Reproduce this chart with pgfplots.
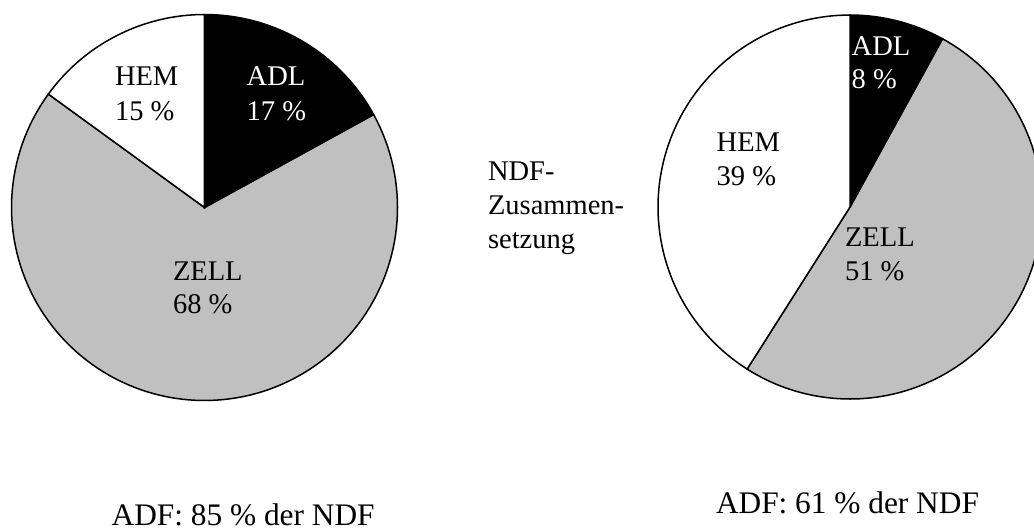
\documentclass[border=0pt]{standalone}
\usepackage{pgfplots}
\pgfplotsset{compat=1.18}
\usepackage{fontspec}
\setmainfont{Liberation Serif}
\definecolor{zellgray}{HTML}{C0C0C0}
\tikzset{
  pielbl/.style={inner sep=0pt, outer sep=0pt, anchor=base west, font=\fontsize{10}{12}\selectfont},
  captxt/.style={inner sep=0pt, outer sep=0pt, anchor=base west, font=\fontsize{11}{13}\selectfont},
}
% shares in percent (clockwise from 12 o'clock: ADL, ZELL, HEM)
% left:  ADL 17, ZELL 68, HEM 15
% right: ADL 8,  ZELL 51, HEM 39 (rest of the circle)
\begin{document}
\begin{tikzpicture}
\useasboundingbox (0,0) rectangle (362.81pt,185.96pt);
\begin{axis}[
  at={(0,0)}, anchor=south west,
  scale only axis, width=362.81pt, height=185.96pt,
  xmin=0, xmax=1034, ymin=-530, ymax=0,
  hide axis, clip=true,
  every axis plot/.append style={line width=0.53pt, draw=black, samples=120, variable=\t},
]
% ---- left pie, centre (204.5,-207.5), r=193
\addplot[fill=zellgray, domain={90-3.6*(17+68)}:{90-3.6*17}] ({204.5+193*cos(t)},{-207.5+193*sin(t)}) -- (axis cs:204.5,-207.5) -- cycle;
\addplot[fill=black, domain={90-3.6*17}:90] ({204.5+193*cos(t)},{-207.5+193*sin(t)}) -- (axis cs:204.5,-207.5) -- cycle;
\addplot[fill=white, domain=90:{90+3.6*15}] ({204.5+193*cos(t)},{-207.5+193*sin(t)}) -- (axis cs:204.5,-207.5) -- cycle;
% ---- right pie, centre (850,-207), r=192
\addplot[fill=zellgray, domain={90-3.6*(8+51)}:{90-3.6*8}] ({850+192*cos(t)},{-207+192*sin(t)}) -- (axis cs:850,-207) -- cycle;
\addplot[fill=black, domain={90-3.6*8}:90] ({850+192*cos(t)},{-207+192*sin(t)}) -- (axis cs:850,-207) -- cycle;
\addplot[fill=white, domain=90:{450-3.6*(8+51)}] ({850+192*cos(t)},{-207+192*sin(t)}) -- (axis cs:850,-207) -- cycle;
% left pie labels
\node[pielbl] at (axis cs:115,-85.7) {HEM};
\node[pielbl] at (axis cs:115,-120) {15 \%};
\node[pielbl,text=white] at (axis cs:246.7,-85.7) {ADL};
\node[pielbl,text=white] at (axis cs:246.7,-120) {17 \%};
\node[pielbl] at (axis cs:173,-280) {ZELL};
\node[pielbl] at (axis cs:173,-313.5) {68 \%};
% right pie labels
\node[pielbl,text=white] at (axis cs:851.7,-55) {ADL};
\node[pielbl,text=white] at (axis cs:851.7,-88.5) {8 \%};
\node[pielbl] at (axis cs:716.7,-151.7) {HEM};
\node[pielbl] at (axis cs:716.7,-185.3) {39 \%};
\node[pielbl] at (axis cs:845,-246.7) {ZELL};
\node[pielbl] at (axis cs:845,-280.3) {51 \%};
% middle text
\node[pielbl] at (axis cs:488,-180) {NDF-};
\node[pielbl] at (axis cs:488,-214) {Zusammen-};
\node[pielbl] at (axis cs:488,-248) {setzung};
% bottom captions
\node[captxt] at (axis cs:111.7,-525) {ADF: 85 \% der NDF};
\node[captxt] at (axis cs:716,-513) {ADF: 61 \% der NDF};
\end{axis}
\end{tikzpicture}
\end{document}
